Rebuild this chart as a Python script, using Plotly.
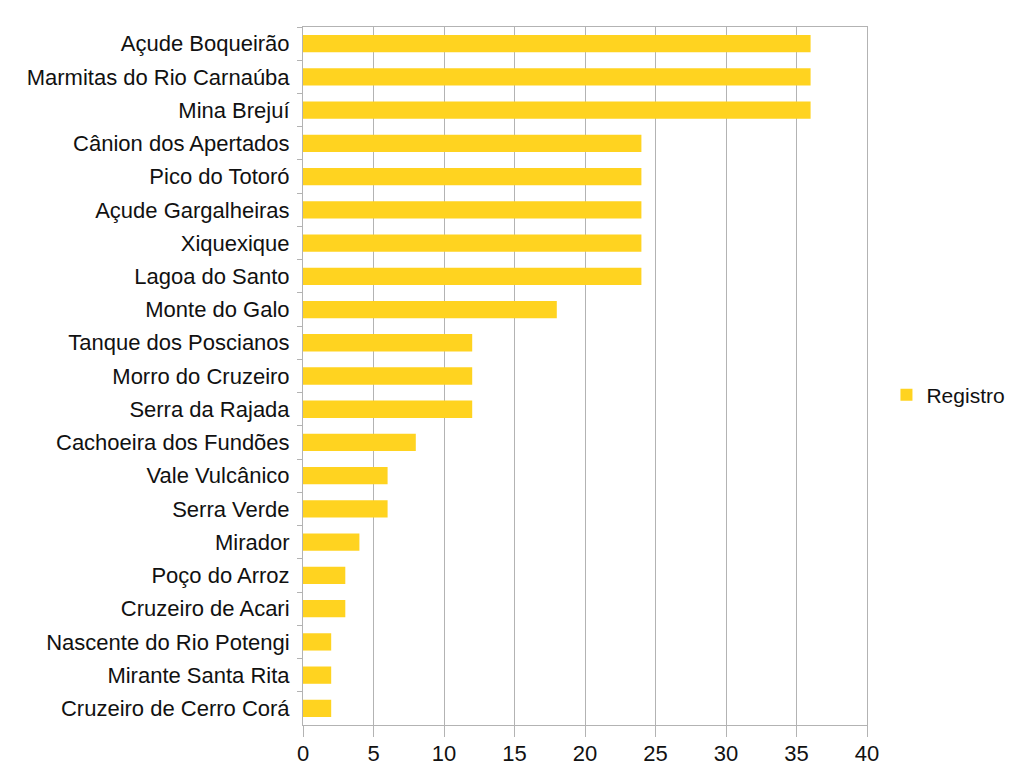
import plotly.graph_objects as go

categories = [
    "Açude Boqueirão", "Marmitas do Rio Carnaúba", "Mina Brejuí",
    "Cânion dos Apertados", "Pico do Totoró", "Açude Gargalheiras",
    "Xiquexique", "Lagoa do Santo", "Monte do Galo", "Tanque dos Poscianos",
    "Morro do Cruzeiro", "Serra da Rajada", "Cachoeira dos Fundões",
    "Vale Vulcânico", "Serra Verde", "Mirador", "Poço do Arroz",
    "Cruzeiro de Acari", "Nascente do Rio Potengi", "Mirante Santa Rita",
    "Cruzeiro de Cerro Corá",
]
values = [36, 36, 36, 24, 24, 24, 24, 24, 18, 12, 12, 12, 8, 6, 6, 4, 3, 3, 2, 2, 2]
x_ticks = [0, 5, 10, 15, 20, 25, 30, 35, 40]
series_name = "Registro"

fig = go.Figure(go.Bar(
    y=categories, x=values, orientation="h", name=series_name,
    marker=dict(color="#ffd320", line=dict(width=0)),
    showlegend=True,
))

grid = "#b3b3b3"
fig.update_layout(
    width=1008, height=770,
    margin=dict(l=295, r=149, t=19, b=53, autoexpand=False),
    paper_bgcolor="white", plot_bgcolor="white",
    font=dict(family="Liberation Sans", size=22, color="#111111"),
    bargap=0.48,
    showlegend=True,
    legend=dict(x=1.0345, xanchor="left", y=0.4725, yanchor="middle",
                font=dict(size=21), bgcolor="rgba(0,0,0,0)", borderwidth=0),
    xaxis=dict(range=[0, 40], tickvals=x_ticks, showgrid=True, gridcolor=grid,
               gridwidth=1, zeroline=False, showline=True, linecolor=grid,
               linewidth=1, mirror=True, ticks="outside", ticklen=11,
               tickcolor=grid, tickwidth=1, automargin=False,
               ticklabelstandoff=-2),
    yaxis=dict(autorange="reversed", type="category", showgrid=False,
               showline=True, linecolor=grid, linewidth=1, mirror=True,
               ticks="outside", ticklen=5, tickcolor=grid, tickwidth=1,
               tickson="boundaries", ticklabelstandoff=8, automargin=False),
)

fig.write_html("out.html")
